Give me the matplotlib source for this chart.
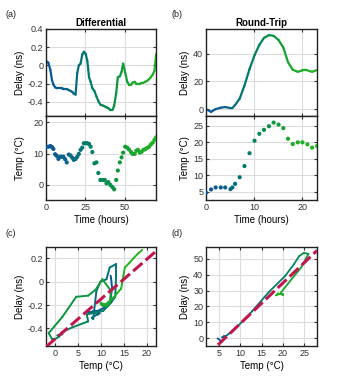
import numpy as np
import matplotlib
matplotlib.use("Agg")
import matplotlib.pyplot as plt
from matplotlib.collections import LineCollection
from matplotlib.colors import LinearSegmentedColormap

plt.rcParams["font.family"] = ["Liberation Sans", "DejaVu Sans"]
plt.rcParams["axes.unicode_minus"] = False

# ----------------------------------------------------------
# Data : differential experiment (hours, degC, ns)
# ----------------------------------------------------------

time_diff = [0.0, 1.5, 2.8, 3.8, 4.7, 5.8, 6.8, 7.9, 9.0, 10.0, 11.1, 12.2, 13.2,
             14.5, 15.6, 16.7, 17.7, 18.8, 19.9, 20.9, 22.0, 23.1, 24.1, 25.2,
             26.3, 27.4, 28.4, 29.5, 30.8, 32.1, 33.3, 34.6, 36.1, 37.4, 38.5,
             39.7, 41.0, 42.3, 43.4, 44.7, 45.7, 47.0, 48.1, 49.1, 50.4, 51.7,
             52.8, 54.1, 55.1, 56.4, 57.5, 58.5, 59.8, 60.9, 62.0, 63.2, 64.3,
             65.6, 66.7, 67.9, 69.0, 70.1, 71.2, 72.3, 73.4, 74.5]
temp_diff = [12.1, 12.2, 12.4, 12.1, 11.5, 9.8, 9.3, 8.3, 9.0, 9.0, 9.0, 8.2, 7.2,
             9.7, 9.4, 8.7, 8.0, 8.3, 9.0, 9.9, 11.2, 11.9, 13.3, 13.3,
             13.3, 13.1, 12.2, 10.5, 6.9, 7.2, 3.8, 1.6, 1.6, 1.6, 0.5,
             0.9, 0.0, -0.7, -1.4, 1.6, 4.6, 7.2, 8.8, 10.3, 12.2, 11.9,
             11.3, 10.5, 9.9, 9.9, 10.9, 11.2, 10.3, 10.6, 11.2, 11.4, 11.8,
             12.2, 12.9, 13.5, 14.4, 15.2, 16.2, 17.1, 18.1, 19.0]
delay_diff = [0.05, 0.03, -0.05, -0.16, -0.21, -0.24, -0.25, -0.25, -0.25, -0.25,
              -0.26, -0.26, -0.26, -0.27, -0.28, -0.29, -0.31, -0.32, -0.08, 0.0,
              0.02, 0.12, 0.15, 0.13, 0.05, -0.13, -0.18, -0.25, -0.28, -0.34,
              -0.39, -0.43, -0.44, -0.45, -0.46, -0.47, -0.49, -0.49, -0.44, -0.3,
              -0.13, -0.12, -0.07, 0.02, -0.08, -0.18, -0.21, -0.21, -0.19, -0.18,
              -0.2, -0.2, -0.2, -0.19, -0.19, -0.18, -0.17, -0.15, -0.13, -0.1,
              -0.06, 0.12, 0.16, 0.2, 0.24, 0.27]

# ----------------------------------------------------------
# Data : round-trip experiment
# ----------------------------------------------------------

time_rt = [0.0, 1.05, 2.0, 3.07, 4.0, 5.1, 5.5, 6.06, 7.0, 8.0, 9.06, 10.1, 11.1,
           12.06, 13.1, 14.08, 15.1, 16.1, 17.07, 18.05, 19.1, 20.07, 21.1,
           22.09, 23.1]
temp_rt = [4.7, 5.7, 6.3, 6.3, 6.3, 5.8, 6.3, 7.4, 9.4, 12.8, 16.7, 20.5, 22.6,
           23.8, 24.9, 26.0, 25.4, 24.3, 21.1, 19.5, 20.0, 20.0, 19.4, 18.4, 18.9]
delay_rt = [0.0, -2.0, 0.0, 1.0, 1.5, 0.7, 0.8, 3.0, 7.5, 17.0, 29.0, 39.0, 46.5,
            51.5, 53.6, 53.0, 50.0, 44.5, 34.0, 28.5, 27.0, 28.0, 28.0, 27.0, 28.3]

# linear fits (ns per degC)
fit_diff = (0.034, -0.489)
fit_rt = (2.55, -16.3)

cmap = LinearSegmentedColormap.from_list(
    "bluegreen", [(0.0, "#0a559a"), (0.15, "#0a5f90"), (0.35, "#007a6e"),
                  (0.55, "#078f48"), (0.75, "#1ca82c"), (1.0, "#22b822")])
fit_color = "#c0174f"
grid_color = "#dcdcdc"


def style(ax):
    ax.grid(True, color=grid_color, linewidth=0.8)
    ax.set_axisbelow(True)
    ax.tick_params(direction="in", length=2.5, width=0.8, top=True, right=True,
                   labelsize=6.5, colors="#333333", pad=2)
    for s in ax.spines.values():
        s.set_linewidth(1.0)
        s.set_color("#222222")


def color_line(ax, x, y, t, lw=1.6):
    pts = np.column_stack([x, y]).reshape(-1, 1, 2)
    segs = np.concatenate([pts[:-1], pts[1:]], axis=1)
    lc = LineCollection(segs, cmap=cmap, linewidth=lw, capstyle="round",
                        joinstyle="round")
    lc.set_array(np.asarray(t[:-1]))
    lc.set_clim(min(t), max(t))
    ax.add_collection(lc)


fig = plt.figure(figsize=(3.5, 3.89), dpi=100)

ax_a1 = fig.add_axes([0.1314, 0.7018, 0.3143, 0.2237])
ax_a2 = fig.add_axes([0.1314, 0.4859, 0.3143, 0.2159])
ax_b1 = fig.add_axes([0.5886, 0.7018, 0.3171, 0.2237])
ax_b2 = fig.add_axes([0.5886, 0.4859, 0.3171, 0.2159])
ax_c = fig.add_axes([0.1314, 0.1105, 0.3143, 0.2545])
ax_d = fig.add_axes([0.5886, 0.1105, 0.3171, 0.2545])

# ==========================================================
# (a) Differential
# ==========================================================

color_line(ax_a1, time_diff, delay_diff, time_diff)
ax_a1.set_xlim(0, 70)
ax_a1.set_ylim(-0.555, 0.4)
ax_a1.set_xticks([0, 25, 50])
ax_a1.set_xticklabels([])
ax_a1.set_yticks([-0.4, -0.2, 0, 0.2, 0.4])
ax_a1.set_yticklabels(["-0.4", "-0.2", "0", "0.2", "0.4"])
ax_a1.set_ylabel("Delay (ns)", fontsize=7, labelpad=2)
ax_a1.set_title("Differential", fontsize=7, fontweight="bold", pad=2)
style(ax_a1)

ax_a2.scatter(time_diff, temp_diff, c=time_diff, cmap=cmap, s=4, zorder=3,
              vmin=min(time_diff), vmax=max(time_diff))
ax_a2.set_xlim(0, 70)
ax_a2.set_ylim(-4.8, 22)
ax_a2.set_xticks([0, 25, 50])
ax_a2.set_yticks([0, 10, 20])
ax_a2.set_xlabel("Time (hours)", fontsize=7, labelpad=2)
ax_a2.set_ylabel("Temp (\u00b0C)", fontsize=7, labelpad=6)
style(ax_a2)

# ==========================================================
# (b) Round-Trip
# ==========================================================

color_line(ax_b1, time_rt, delay_rt, time_rt)
ax_b1.set_xlim(0, 23.1)
ax_b1.set_ylim(-5, 58)
ax_b1.set_xticks([0, 10, 20])
ax_b1.set_xticklabels([])
ax_b1.set_yticks([0, 20, 40])
ax_b1.set_ylabel("Delay (ns)", fontsize=7, labelpad=2)
ax_b1.set_title("Round-Trip", fontsize=7, fontweight="bold", pad=2)
style(ax_b1)

ax_b2.scatter(time_rt, temp_rt, c=time_rt, cmap=cmap, s=4, zorder=3)
ax_b2.set_xlim(0, 23.1)
ax_b2.set_ylim(2.5, 28)
ax_b2.set_xticks([0, 10, 20])
ax_b2.set_yticks([5, 10, 15, 20, 25])
ax_b2.set_xlabel("Time (hours)", fontsize=7, labelpad=2)
ax_b2.set_ylabel("Temp (\u00b0C)", fontsize=7, labelpad=2)
style(ax_b2)

# ==========================================================
# (c) Differential delay vs temperature
# ==========================================================

color_line(ax_c, temp_diff, delay_diff, time_diff, lw=1.4)
xc = np.array([-2, 22])
ax_c.plot(xc, fit_diff[0] * xc + fit_diff[1], color=fit_color, lw=2.2,
          dashes=(4, 1.4), zorder=4)
ax_c.set_xlim(-2, 22)
ax_c.set_ylim(-0.55, 0.295)
ax_c.set_xticks([0, 5, 10, 15, 20])
ax_c.set_yticks([-0.4, -0.2, 0, 0.2])
ax_c.set_yticklabels(["-0.4", "-0.2", "0", "0.2"])
ax_c.set_xlabel("Temp (\u00b0C)", fontsize=7, labelpad=2)
ax_c.set_ylabel("Delay (ns)", fontsize=7, labelpad=2)
style(ax_c)

# ==========================================================
# (d) Round-trip delay vs temperature
# ==========================================================

color_line(ax_d, temp_rt, delay_rt, time_rt, lw=1.3)
xd = np.array([2, 28])
ax_d.plot(xd, fit_rt[0] * xd + fit_rt[1], color=fit_color, lw=2.2,
          dashes=(4, 1.4), zorder=4)
ax_d.set_xlim(2, 28)
ax_d.set_ylim(-4.8, 57.3)
ax_d.set_xticks([5, 10, 15, 20, 25])
ax_d.set_yticks([0, 10, 20, 30, 40, 50])
ax_d.set_xlabel("Temp (\u00b0C)", fontsize=7, labelpad=2)
ax_d.set_ylabel("Delay (ns)", fontsize=7, labelpad=2)
style(ax_d)

# panel labels
for lab, x, y in [("(a)", 0.015, 0.963), ("(b)", 0.49, 0.963),
                  ("(c)", 0.015, 0.4), ("(d)", 0.49, 0.4)]:
    fig.text(x, y, lab, fontsize=6.5, color="#222222", va="center")

fig.savefig("out.png", dpi=100)
